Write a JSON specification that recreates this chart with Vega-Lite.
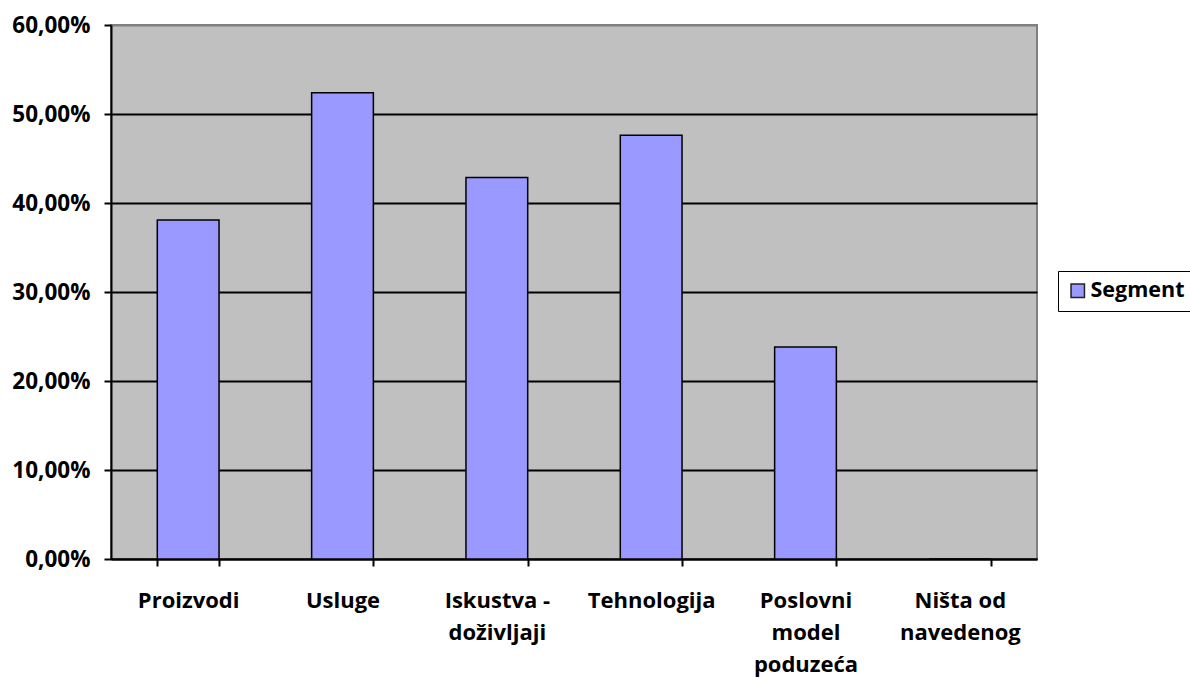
{
  "$schema": "https://vega.github.io/schema/vega-lite/v6.json",
  "autosize": "none",
  "width": 926,
  "height": 534,
  "padding": {"left": 111, "top": 25, "right": 153, "bottom": 119},
  "background": "white",
  "config": {
    "view": {"fill": "#C0C0C0", "stroke": "#808080", "strokeWidth": 2},
    "font": "Open Sans",
    "locale": {"number": {"decimal": ",", "thousands": ".", "grouping": [3], "currency": ["", " €"]}}
  },
  "data": {
    "values": [
      {"kategorija": "Proizvodi", "udio": 0.381},
      {"kategorija": "Usluge", "udio": 0.5238},
      {"kategorija": "Iskustva -|doživljaji", "udio": 0.4286},
      {"kategorija": "Tehnologija", "udio": 0.4762},
      {"kategorija": "Poslovni|model|poduzeća", "udio": 0.2381},
      {"kategorija": "Ništa od|navedenog", "udio": 0}
    ]
  },
  "mark": {"type": "bar", "stroke": "black", "strokeWidth": 1.5},
  "encoding": {
    "x": {
      "field": "kategorija",
      "type": "nominal",
      "sort": null,
      "scale": {"paddingInner": 0.6, "paddingOuter": 0.3},
      "axis": {
        "title": null,
        "labelAngle": 0,
        "labelExpr": "split(datum.label, '|')",
        "labelFont": "Open Sans",
        "labelFontWeight": "bold",
        "labelFontSize": 22,
        "labelColor": "black",
        "labelLineHeight": 32,
        "labelPadding": 24,
        "labelBaseline": "top",
        "tickBand": "extent",
        "tickColor": "black",
        "tickWidth": 2,
        "tickSize": 7,
        "domainColor": "black",
        "domainWidth": 2,
        "grid": false
      }
    },
    "y": {
      "field": "udio",
      "type": "quantitative",
      "scale": {"domain": [0, 0.6], "nice": false},
      "axis": {
        "title": null,
        "values": [0, 0.1, 0.2, 0.3, 0.4, 0.5, 0.6],
        "format": ".2%",
        "labelFont": "Open Sans",
        "labelFontWeight": "bold",
        "labelFontSize": 22.5,
        "labelColor": "black",
        "labelPadding": 14,
        "tickColor": "black",
        "tickWidth": 2,
        "tickSize": 7,
        "domainColor": "black",
        "domainWidth": 2,
        "grid": true,
        "gridColor": {"condition": {"test": "datum.value >= 0.6", "value": "#808080"}, "value": "black"},
        "gridWidth": 2,
        "gridOpacity": 1
      }
    },
    "fill": {
      "datum": "Segment",
      "type": "nominal",
      "scale": {"range": ["#9999FF"]},
      "legend": {
        "title": null,
        "orient": "none",
        "legendX": 947,
        "legendY": 246,
        "fillColor": "white",
        "strokeColor": "black",
        "padding": 9,
        "symbolType": "square",
        "symbolSize": 180,
        "symbolStrokeColor": "#222",
        "symbolStrokeWidth": 1.5,
        "symbolFillColor": "#9999FF",
        "labelFont": "Open Sans",
        "labelFontWeight": "bold",
        "labelFontSize": 21.5,
        "labelColor": "black",
        "labelOffset": 2
      }
    }
  }
}
